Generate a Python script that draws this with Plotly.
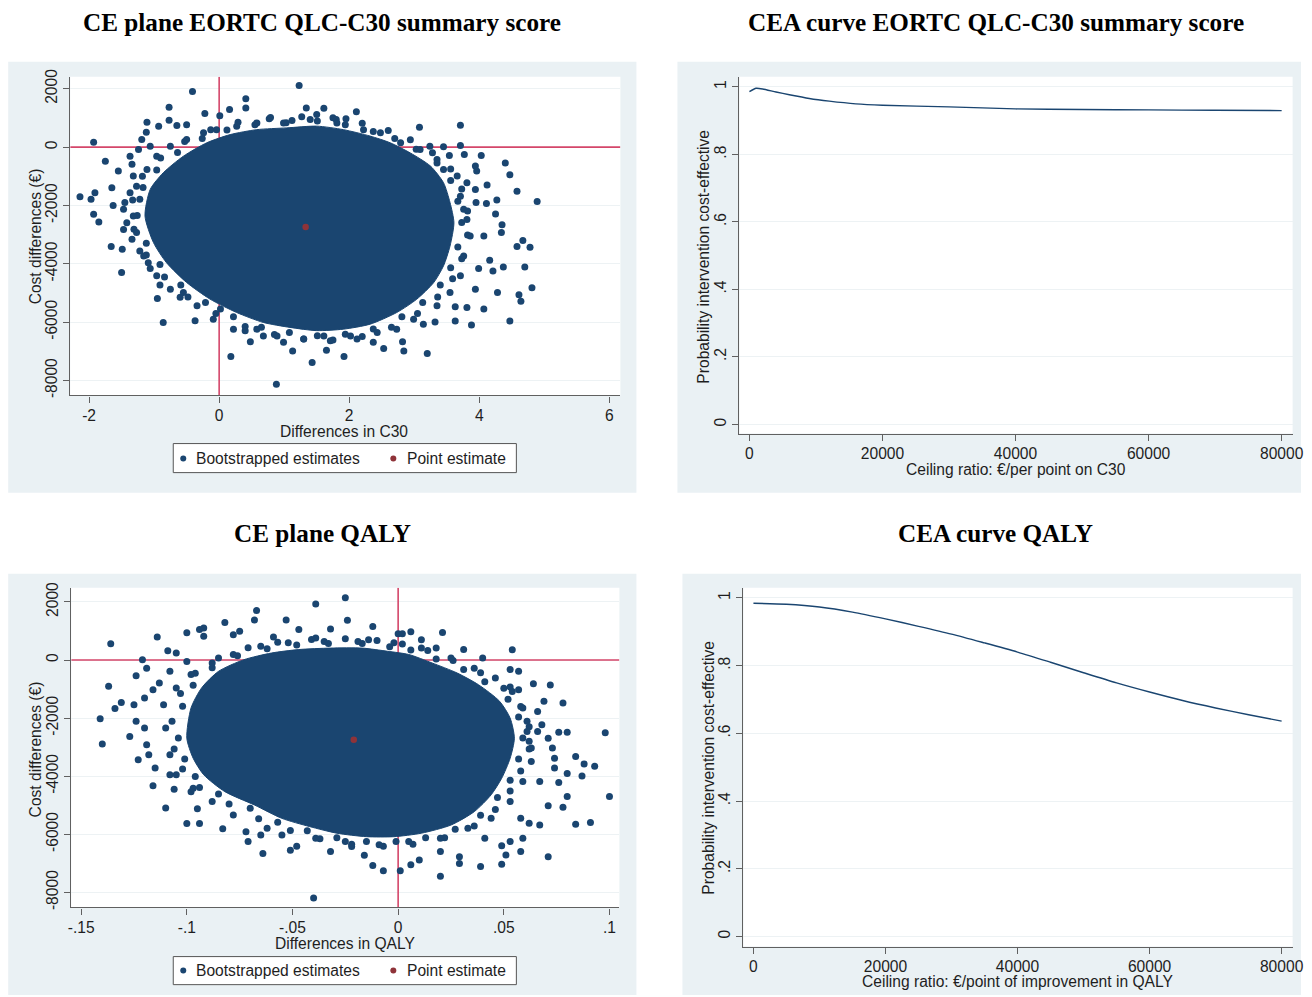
import plotly.graph_objects as go

W, H = 1312, 997

# ---------------- DATA ----------------
# CE plane, EORTC QLQ-C30 summary score: outline of the solid part of the bootstrap cloud
c30_core_x = [-1.14, -1.06, -0.86, -0.55, -0.19, 0.17, 0.58, 1.04, 1.50, 1.91, 2.32, 2.63, 2.94, 3.25, 3.45, 3.55,
              3.61, 3.55, 3.45, 3.30, 3.04, 2.73, 2.32, 1.91, 1.50, 1.09, 0.68, 0.27, -0.14, -0.50, -0.81, -1.01]
c30_core_y = [-2360, -1450, -880, -310, 150, 430, 600, 660, 720, 600, 380, 150, -200, -650, -1220, -1900,
              -2590, -3390, -4070, -4640, -5210, -5670, -6070, -6240, -6290, -6180, -6010, -5670, -5210, -4640, -3960, -3270]
# estimates in the ragged band just outside the solid part
c30_band_x = [-1.26, -1.17, -0.96, -0.64, -0.26, 0.12, 0.55, 1.03, 1.51, 1.94, 2.37, 2.70, 3.03, 3.35, 3.56, 3.67,
              3.73, 3.67, 3.56, 3.40, 3.13, 2.81, 2.37, 1.94, 1.51, 1.08, 0.65, 0.22, -0.21, -0.59, -0.91, -1.12,
              -1.33, -1.18, -0.90, -0.53, -0.13, 0.29, 0.77, 1.27, 1.75, 2.20, 2.60, 2.94, 3.28, 3.56, 3.73, 3.82,
              3.82, 3.73, 3.59, 3.36, 3.05, 2.65, 2.20, 1.75, 1.30, 0.85, 0.40, -0.05, -0.48, -0.84, -1.12, -1.31]
c30_band_y = [-2340, -1380, -785, -185, 300, 590, 770, 835, 895, 770, 540, 300, -70, -540, -1140, -1855,
              -2580, -3420, -4135, -4730, -5330, -5815, -6235, -6410, -6465, -6350, -6170, -5815, -5330, -4730, -4020, -3295,
              -1815, -1000, -375, 190, 600, 850, 970, 1040, 1005, 820, 570, 250, -190, -750, -1435, -2190,
              -3010, -3825, -4510, -5140, -5705, -6175, -6490, -6610, -6580, -6425, -6145, -5705, -5140, -4450, -3695, -2815]
# individually visible bootstrap estimates around the cloud
c30_boot_x = [1.23, -0.41, 0.41, 0.41, -0.77, -0.22, 0.01, 0.16, 1.34, 1.61, 2.11, -1.11, -0.77, -0.65, -0.50, -0.93,
              0.79, 1.12, 1.50, 1.80, 1.95, 3.08, 3.71, -1.93, -1.12, -1.19, -1.06, -1.24, -1.37, -1.75, -1.55, -1.34,
              3.24, 3.45, 3.71, 3.54, 4.03, 3.77, 4.40, 3.94, 4.47, 3.96, 3.81, 4.12, 4.58, 3.94, -2.14, -1.97,
              -1.91, -1.65, -1.63, -1.47, 4.27, 4.11, 4.89, 3.95, 4.25, -1.93, -1.85, -1.47, 4.35, 4.34, 4.07, 4.67,
              4.58, 4.78, -1.66, -1.49, -1.34, -1.22, 4.16, 4.37, 4.70, 3.99, 4.21, -1.50, -1.06, 4.28, 4.61, 4.64,
              4.81, 3.94, -0.95, -0.60, -0.91, 3.81, 4.07, 3.63, 4.47, 3.88, 3.63, -0.86, -0.37, -0.09, 0.22, 0.48,
              0.40, 0.68, 0.99, 1.13, 1.43, 1.65, 1.92, 0.18, 0.88, 3.20, 2.84, 2.82, 2.37, 2.53, 3.32, 3.14, 2.12, 1.71,
              -1.32, -1.27, -1.37, -1.22, -1.45, -1.32, -1.42, -1.27, -1.16, -1.09, -0.96, -0.75, -0.55, -0.34, 0.02,
              0.58, 0.89, 1.30, 1.61, 2.02, 2.43, 2.73, 2.99, 3.35, 3.55, 3.71, 3.76, 3.86, 3.81, 3.76, 3.71, 3.66,
              3.45, 3.35, 3.09, 2.79, 2.48, 2.22, 1.81, 1.40, 0.99, 0.58, 0.27, -0.04, -0.24, -0.50, -0.75, -0.96, -1.11]
c30_boot_y = [2110, 1910, 1660, 1340, 1370, 1150, 1080, 1290, 1340, 1330, 1210, 850, 920, 740, 770, 720,
              1020, 910, 1120, 950, 970, 680, 750, 170, 510, 260, 30, -80, -310, -480, -820, -590,
              30, 10, 60, -290, -290, -250, -540, -650, -950, -820, -1220, -1300, -1510, -1450, -1700, -1790,
              -1560, -1390, -2000, -2130, -1810, -1930, -1860, -1900, -2290, -2300, -2570, -2820, -2660, -2930, -3050, -3200,
              -3410, -3430, -3410, -3500, -3160, -3560, -3880, -4110, -4110, -4160, -4250, -4300, -4160, -4980, -5060, -5280,
              -4820, -4870, -5190, -5150, -4730, -5500, -5550, -5470, -5960, -6100, -5960, -6010, -5950, -5900, -6240, -6670,
              -6290, -6470, -6690, -6990, -7380, -6960, -7180, -7180, -8130, -7070, -6990, -6670, -6690, -6900, -5990, -6070, -6580, -6640,
              -990, -1340, -1560, -1790, -1900, -2360, -2590, -2930, -3730, -3960, -4410, -4870, -4980, -5440, -5550,
              -6240, -6470, -6580, -6470, -6470, -6350, -6240, -5900, -5440, -4980, -4410, -3730, -3050, -2480, -2130, -1680, -990,
              -770, -420, -80, 150, 490, 600, 830, 950, 830, 830, 720, 600, 490, 260, 30, -310, -770]
c30_point_x = [1.33]
c30_point_y = [-2735]

# CE plane, QALY
qaly_core_x = [-0.100, -0.098, -0.093, -0.085, -0.073, -0.060, -0.047, -0.032, -0.017, -0.005, 0.005, 0.016, 0.028,
               0.038, 0.048, 0.053, 0.055, 0.053, 0.049, 0.044, 0.036, 0.025, 0.011, -0.002, -0.015, -0.029, -0.042,
               -0.055, -0.068, -0.082, -0.092, -0.097]
qaly_core_y = [-2690, -1650, -960, -390, 10, 240, 360, 410, 410, 300, 190, -100, -450,
               -850, -1420, -2000, -2690, -3380, -4070, -4640, -5220, -5680, -5960, -6080, -6080, -5960, -5730,
               -5450, -4990, -4530, -3950, -3380]
qaly_band_x = [-0.104, -0.102, -0.097, -0.088, -0.076, -0.062, -0.048, -0.033, -0.017, -0.004, 0.006, 0.018, 0.031,
               0.041, 0.052, 0.057, 0.059, 0.057, 0.053, 0.047, 0.039, 0.027, 0.013, -0.001, -0.015, -0.029, -0.043,
               -0.057, -0.070, -0.085, -0.096, -0.101,
               -0.107, -0.103, -0.096, -0.085, -0.071, -0.057, -0.041, -0.025, -0.010, 0.002, 0.014, 0.026, 0.039,
               0.050, 0.058, 0.062, 0.062, 0.058, 0.053, 0.046, 0.036, 0.022, 0.007, -0.007, -0.022, -0.037, -0.051,
               -0.066, -0.080, -0.094, -0.102, -0.106]
qaly_band_y = [-2685, -1590, -870, -270, 150, 390, 520, 570, 570, 455, 340, 35, -330,
               -750, -1350, -1960, -2685, -3410, -4135, -4730, -5340, -5825, -6120, -6245, -6245, -6120, -5875,
               -5585, -5100, -4615, -4010, -3410,
               -2105, -1155, -460, 70, 420, 610, 705, 730, 670, 550, 330, -20, -435,
               -970, -1600, -2300, -3060, -3820, -4510, -5145, -5715, -6120, -6340, -6410, -6340, -6150, -5870,
               -5460, -4955, -4385, -3750, -3060]
qaly_boot_x = [-0.025, -0.039, -0.067, -0.068, -0.082, -0.053, -0.024, -0.012, 0.006, 0.021, 0.000, 0.002, -0.136, -0.114,
               -0.100, -0.094, -0.092, -0.092, -0.075, -0.078, -0.059, -0.047, -0.032, -0.039, -0.014, 0.011, 0.018, 0.031,
               0.040, 0.054, -0.121, -0.109, -0.105, -0.119, -0.124, -0.113, -0.137, 0.053, 0.057, 0.064, 0.072, 0.053,
               0.057, 0.069, 0.078, -0.131, -0.134, -0.125, -0.120, -0.116, 0.066, 0.061, 0.068, -0.141, -0.124, -0.120,
               -0.127, -0.140, 0.076, 0.080, 0.098, 0.066, 0.071, 0.062, 0.063, 0.073, 0.074, 0.084, 0.088, 0.093,
               -0.123, -0.119, -0.118, -0.115, 0.074, 0.080, 0.087, 0.067, 0.076, -0.116, -0.106, -0.098, -0.108, 0.100,
               0.080, 0.071, 0.078, -0.110, -0.095, -0.100, -0.094, -0.083, 0.084, 0.091, 0.067, 0.062, 0.058, 0.059,
               0.053, 0.049, 0.071, 0.058, 0.051, 0.049, 0.039, 0.029, 0.029, 0.020, 0.006, 0.001, -0.007, -0.012,
               -0.016, -0.022, -0.032, -0.048, -0.051, -0.064, -0.071, -0.072, -0.065, -0.055, -0.040, 0.010, 0.020, 0.041,
               -0.111, -0.110, -0.108, -0.105, -0.097, -0.088, -0.078, -0.062, -0.039, -0.025, -0.009, 0.005, 0.020, 0.033,
               0.044, 0.053, 0.059, 0.063, 0.061, 0.059, 0.054, 0.046, 0.036, 0.025, 0.011, -0.002, -0.019, -0.035,
               -0.052, -0.065, -0.078, -0.088, -0.098, -0.105, -0.100, -0.108]
qaly_boot_y = [2140, 1930, 1700, 1380, 1290, 1380, 1370, 1150, 970, 950, 900, 900, 560, 790,
               940, 1050, 1100, 820, 990, 870, 790, 1050, 1070, 760, 700, 700, 410, 360,
               70, 350, 10, 320, 240, -280, -540, -790, -900, -330, -390, -820, -860, -930,
               -1020, -1420, -1480, -1460, -1670, -1540, -1310, -1020, -1770, -2110, -2230, -2020, -2110, -2340,
               -2630, -2890, -2490, -2490, -2500, -2460, -2690, -2800, -3030, -3030, -3380, -3320, -3580, -3660,
               -3430, -2920, -3260, -3720, -3720, -3910, -3990, -4180, -4220, -4330, -4450, -4530, -3950, -4700,
               -4700, -5020, -5070, -5090, -5120, -5630, -5630, -5810, -5650, -5590, -5680, -5620, -5450, -6130,
               -6250, -6390, -6770, -6590, -6710, -7030, -7110, -7000, -6770, -7440, -7050, -7250, -7250, -7070,
               -6720, -6420, -6590, -6410, -6550, -6660, -6250, -5910, -6020, -6020, -8190, -6880, -6590, -6130,
               -1540, -2340, -3260, -3950, -4410, -4870, -5330, -5790, -6130, -6250, -6360, -6250, -6130, -5790,
               -5450, -4870, -4180, -3490, -2460, -1650, -1080, -620, -280, 70, 410, 590, 640, 640,
               590, 470, 190, -100, -500, -960, -50, -390]
qaly_point_x = [-0.021]
qaly_point_y = [-2745]

# CEA curves (probability intervention is cost-effective by ceiling ratio)
cea_c30_x = [0, 1000, 2000, 4000, 6000, 9000, 12000, 16000, 20000, 30000, 40000, 50000, 60000, 70000, 80000]
cea_c30_y = [0.986, 0.996, 0.994, 0.985, 0.977, 0.966, 0.958, 0.950, 0.946, 0.941, 0.935, 0.933, 0.932, 0.931, 0.930]
cea_qaly_x = [0, 5000, 10000, 15000, 20000, 25000, 30000, 35000, 40000, 45000, 50000, 55000, 60000, 65000, 70000, 75000, 80000]
cea_qaly_y = [0.984, 0.981, 0.973, 0.958, 0.938, 0.916, 0.893, 0.867, 0.840, 0.810, 0.779, 0.749, 0.722, 0.697, 0.675, 0.655, 0.636]

# ticks
c30_x_ticks = [-2, 0, 2, 4, 6]
c30_x_labels = ["-2", "0", "2", "4", "6"]
cost_ticks = [-8000, -6000, -4000, -2000, 0, 2000]
cost_labels = ["-8000", "-6000", "-4000", "-2000", "0", "2000"]
qaly_x_ticks = [-0.15, -0.1, -0.05, 0, 0.05, 0.1]
qaly_x_labels = ["-.15", "-.1", "-.05", "0", ".05", ".1"]
ceil_ticks = [0, 20000, 40000, 60000, 80000]
ceil_labels = ["0", "20000", "40000", "60000", "80000"]
prob_ticks = [0, 0.2, 0.4, 0.6, 0.8, 1]
prob_labels = ["0", ".2", ".4", ".6", ".8", "1"]
ref_zero = 0

# ---------------- STYLE ----------------
NAVY = "#1a4570"
MAROON = "#8f3339"
REDL = "#d4466a"
AXIS = "#606060"
GRID = "#edf2f4"
PANEL = "#eaf1f4"
FONT = "Liberation Sans, Arial, sans-serif"
SERIF = "Liberation Serif, Times New Roman, serif"
TXT = "#1e1e1e"

# the photographed page comes out slightly reduced and shifted; compensate
SCX, DX = 0.989, 2.8
SCY, DY = 0.988, 8.3
FS = 15.6
TS = 25.2

# panel geometry (target pixels): plot area and outer region
plots = {
    "1": dict(plot=(70, 620, 77, 395), outer=(8, 636, 62, 492)),
    "2": dict(plot=(739, 1292, 77, 433), outer=(677, 1320, 62, 492)),
    "3": dict(plot=(71, 619, 587, 906), outer=(8, 636, 573, 1010)),
    "4": dict(plot=(743, 1292, 587, 945), outer=(682, 1320, 573, 1010)),
}
ranges = {
    "1": ([-2.29, 6.17], [-8513, 2410]),
    "2": ([-1500, 81650], [-0.027, 1.03]),
    "3": ([-0.1547, 0.1047], [-8517, 2483]),
    "4": ([-1515, 81667], [-0.0296, 1.0296]),
}


def fx(p):
    return min(1.0, max(0.0, ((p - DX) / SCX) / W))


def fy(p):
    return min(1.0, max(0.0, 1 - ((p - DY) / SCY) / H))


fig = go.Figure()


def add_cloud(k, core_x, core_y, band_x, band_y, bx, by, px, py, xa, ya):
    xr, yr = ranges[k]
    # zero reference lines (below the cloud)
    fig.add_trace(go.Scatter(x=xr, y=[ref_zero, ref_zero], mode="lines", line=dict(color=REDL, width=1.6),
                             xaxis=xa, yaxis=ya, hoverinfo="skip", showlegend=False))
    fig.add_trace(go.Scatter(x=[ref_zero, ref_zero], y=yr, mode="lines", line=dict(color=REDL, width=1.6),
                             xaxis=xa, yaxis=ya, hoverinfo="skip", showlegend=False))
    fig.add_trace(go.Scatter(x=core_x + core_x[:1], y=core_y + core_y[:1], mode="lines", fill="toself",
                             fillcolor=NAVY, line=dict(color=NAVY, width=1, shape="spline", smoothing=0.7),
                             xaxis=xa, yaxis=ya, hoverinfo="skip", showlegend=False, name="Bootstrapped estimates"))
    fig.add_trace(go.Scatter(x=band_x + bx, y=band_y + by, mode="markers",
                             marker=dict(color=NAVY, size=7, line=dict(width=0)),
                             xaxis=xa, yaxis=ya, showlegend=False, name="Bootstrapped estimates"))
    fig.add_trace(go.Scatter(x=px, y=py, mode="markers", marker=dict(color=MAROON, size=6.5, line=dict(width=0)),
                             xaxis=xa, yaxis=ya, showlegend=False, name="Point estimate"))


add_cloud("1", c30_core_x, c30_core_y, c30_band_x, c30_band_y, c30_boot_x, c30_boot_y, c30_point_x, c30_point_y, "x", "y")
add_cloud("3", qaly_core_x, qaly_core_y, qaly_band_x, qaly_band_y, qaly_boot_x, qaly_boot_y, qaly_point_x, qaly_point_y, "x3", "y3")

fig.add_trace(go.Scatter(x=cea_c30_x, y=cea_c30_y, mode="lines",
                         line=dict(color=NAVY, width=1.4, shape="spline", smoothing=0.6),
                         xaxis="x2", yaxis="y2", showlegend=False))
fig.add_trace(go.Scatter(x=cea_qaly_x, y=cea_qaly_y, mode="lines",
                         line=dict(color=NAVY, width=1.4, shape="spline", smoothing=0.8),
                         xaxis="x4", yaxis="y4", showlegend=False))

xticks = {"1": (c30_x_ticks, c30_x_labels), "2": (ceil_ticks, ceil_labels),
          "3": (qaly_x_ticks, qaly_x_labels), "4": (ceil_ticks, ceil_labels)}
yticks = {"1": (cost_ticks, cost_labels), "2": (prob_ticks, prob_labels),
          "3": (cost_ticks, cost_labels), "4": (prob_ticks, prob_labels)}

layout = dict(width=W, height=H, margin=dict(l=0, r=0, t=0, b=0), paper_bgcolor="white",
              plot_bgcolor="rgba(0,0,0,0)", showlegend=False)
shapes = []
for k, g in plots.items():
    x0, x1, y0, y1 = g["plot"]
    ox0, ox1, oy0, oy1 = g["outer"]
    suffix = "" if k == "1" else k
    tickfont = dict(family=FONT, size=FS, color=TXT)
    layout["xaxis" + suffix] = dict(domain=[fx(x0), fx(x1)], range=ranges[k][0], anchor="y" + suffix,
                                    tickvals=xticks[k][0], ticktext=xticks[k][1], showline=True, linecolor=AXIS,
                                    linewidth=1.2, ticks="outside", ticklen=6, tickcolor=AXIS, tickwidth=1.2,
                                    ticklabeloverflow="allow",
                                    showgrid=False, zeroline=False, tickfont=tickfont, fixedrange=True)
    layout["yaxis" + suffix] = dict(domain=[fy(y1), fy(y0)], range=ranges[k][1], anchor="x" + suffix,
                                    tickvals=yticks[k][0], ticktext=yticks[k][1], showline=True, linecolor=AXIS,
                                    linewidth=1.2, ticks="outside", ticklen=6, tickcolor=AXIS, tickwidth=1.2,
                                    ticklabeloverflow="allow",
                                    tickangle=-90, showgrid=True, gridcolor=GRID, gridwidth=1,
                                    zeroline=False, tickfont=tickfont, fixedrange=True)
    shapes.append(dict(type="rect", xref="paper", yref="paper", x0=fx(ox0), x1=fx(ox1), y0=fy(oy1), y1=fy(oy0),
                       fillcolor=PANEL, line=dict(width=0), layer="below"))
    shapes.append(dict(type="rect", xref="paper", yref="paper", x0=fx(x0), x1=fx(x1), y0=fy(y1), y1=fy(y0),
                       fillcolor="white", line=dict(width=0), layer="below"))

annotations = []


def text(x, y, s, size=FS, angle=0, xanchor="center", family=FONT, weight="normal"):
    annotations.append(dict(xref="paper", yref="paper", x=fx(x), y=fy(y), text=s, showarrow=False,
                            xanchor=xanchor, yanchor="middle", textangle=angle,
                            font=dict(family=family, size=size, color="black" if weight == "bold" else TXT,
                                      weight=weight)))


# titles
text(322, 23, "CE plane EORTC QLC-C30 summary score", size=TS, family=SERIF, weight="bold")
text(995, 23, "CEA curve EORTC QLC-C30 summary score", size=TS, family=SERIF, weight="bold")
text(322, 533, "CE plane QALY", size=TS, family=SERIF, weight="bold")
text(995, 533, "CEA curve QALY", size=TS, family=SERIF, weight="bold")

# axis titles
text(344, 431, "Differences in C30")
text(35, 236, "Cost differences (€)", angle=-90)
text(1015, 469, "Ceiling ratio: €/per point on C30")
text(703, 256, "Probability intervention cost-effective", angle=-90)
text(345, 942, "Differences in QALY")
text(35, 748, "Cost differences (€)", angle=-90)
text(1017, 980, "Ceiling ratio: €/point of improvement in QALY")
text(708, 766, "Probability intervention cost-effective", angle=-90)

# legends
for cy, top, bot in ((458, 443, 472), (969, 955, 983)):
    shapes.append(dict(type="rect", xref="paper", yref="paper", x0=fx(173), x1=fx(516), y0=fy(bot), y1=fy(top),
                       fillcolor="white", line=dict(color="#555555", width=1), layer="above"))
    shapes.append(dict(type="circle", xref="paper", yref="paper", x0=fx(180), x1=fx(186), y0=fy(cy + 3), y1=fy(cy - 3),
                       fillcolor=NAVY, line=dict(width=0), layer="above"))
    shapes.append(dict(type="circle", xref="paper", yref="paper", x0=fx(390), x1=fx(396), y0=fy(cy + 3), y1=fy(cy - 3),
                       fillcolor=MAROON, line=dict(width=0), layer="above"))
    text(194, cy, "Bootstrapped estimates", xanchor="left")
    text(405, cy, "Point estimate", xanchor="left")

layout["shapes"] = shapes
layout["annotations"] = annotations
fig.update_layout(**layout)
fig.write_html("out.html", config={"displayModeBar": False},
               post_script="document.body.style.margin='0';document.body.style.overflow='hidden';")
